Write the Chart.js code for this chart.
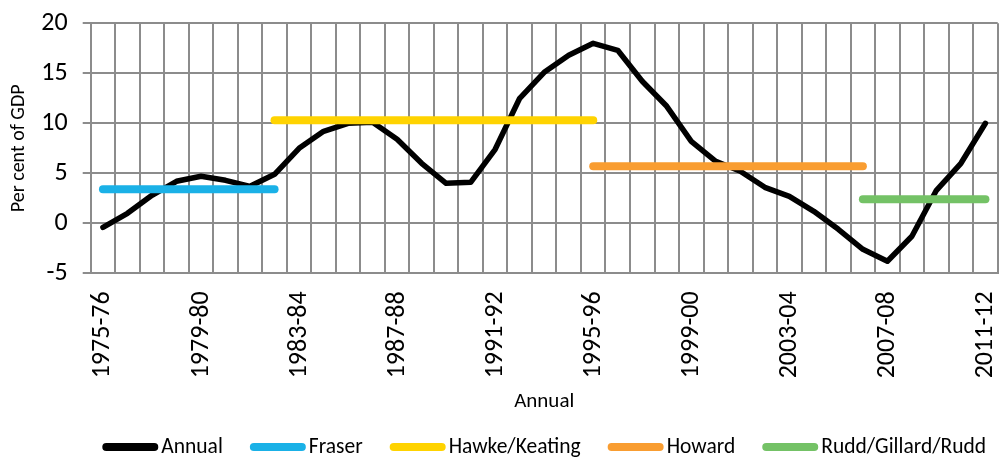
<!DOCTYPE html>
<html><head><meta charset="utf-8">
<script src="https://cdn.jsdelivr.net/npm/chart.js@4/dist/chart.umd.min.js"></script>
<style>html,body{margin:0;padding:0;background:#fff;}#wrap{width:1000px;height:459px;}</style>
</head><body><div id="wrap"><canvas id="c" width="1000" height="459"></canvas></div>
<script>
const categories = ['1975-76','1976-77','1977-78','1978-79','1979-80','1980-81','1981-82','1982-83','1983-84','1984-85','1985-86','1986-87','1987-88','1988-89','1989-90','1990-91','1991-92','1992-93','1993-94','1994-95','1995-96','1996-97','1997-98','1998-99','1999-00','2000-01','2001-02','2002-03','2003-04','2004-05','2005-06','2006-07','2007-08','2008-09','2009-10','2010-11','2011-12'];
const annual = [-0.4,1.0,2.8,4.2,4.7,4.3,3.7,4.9,7.5,9.2,10.0,10.1,8.4,6.0,4.0,4.1,7.4,12.5,15.1,16.8,18.0,17.3,14.2,11.7,8.2,6.2,5.2,3.6,2.7,1.2,-0.6,-2.6,-3.8,-1.3,3.3,6.0,10.0];
const periodNames = ['Fraser','Hawke/Keating','Howard','Rudd/Gillard/Rudd'];
const periodStart = ['1975-76','1982-83','1995-96','2006-07'];
const periodEnd = ['1982-83','1995-96','2006-07','2011-12'];
const periodAverage = [3.4,10.3,5.7,2.4];
const periodColors = ['#1AB1E7','#FFD300','#F99D31','#74C266'];
const yTicks = [-5,0,5,10,15,20];
const labelEvery = 4;

const FONT = 'Carlito, Lato, sans-serif';
const gridColor = '#8c8c8c';

const datasets = [{
  label: 'Annual', data: annual, borderColor: '#000', backgroundColor: '#000',
  borderWidth: 5.5, pointRadius: 0, tension: 0, borderJoinStyle: 'round', borderCapStyle: 'round', order: 10
}];
periodNames.forEach((name, k) => {
  const s = categories.indexOf(periodStart[k]);
  const e = categories.indexOf(periodEnd[k]);
  const data = categories.map((c, i) => (i >= s && i <= e) ? periodAverage[k] : null);
  datasets.push({label: name, data, borderColor: periodColors[k], backgroundColor: periodColors[k],
    borderWidth: 8, pointRadius: 0, borderCapStyle: 'round', spanGaps: false, order: 4 - k});
});

const legendPlugin = {
  id: 'customLegend',
  afterDraw(chart) {
    const ctx = chart.ctx;
    ctx.save();
    ctx.font = '21.5px ' + FONT;
    const sample = 56, gap = 3, spacing = 27, y = 447;
    const items = chart.data.datasets.map(d => ({text: d.label, color: d.borderColor, w: ctx.measureText(d.label).width}));
    let total = 0;
    items.forEach((it, i) => { total += sample + gap + it.w + (i ? spacing : 0); });
    const ca = chart.chartArea;
    let x = (ca.left + ca.right) / 2 - total / 2;
    items.forEach(it => {
      ctx.strokeStyle = it.color; ctx.lineWidth = 8; ctx.lineCap = 'round';
      ctx.beginPath(); ctx.moveTo(x + 4, y); ctx.lineTo(x + sample - 4, y); ctx.stroke();
      ctx.fillStyle = '#000'; ctx.textBaseline = 'middle'; ctx.textAlign = 'left';
      ctx.fillText(it.text, x + sample + gap, y + 1);
      x += sample + gap + it.w + spacing;
    });
    ctx.restore();
  }
};

function noPad(scale) { scale.paddingLeft = 0; scale.paddingRight = 0; scale.paddingTop = 0; scale.paddingBottom = 0; }

new Chart(document.getElementById('c'), {
  type: 'line',
  data: {labels: categories, datasets},
  options: {
    responsive: false, devicePixelRatio: 1, animation: false,
    layout: {padding: {top: 23.3, right: 2.3, left: 0, bottom: 0}},
    plugins: {legend: {display: false}, tooltip: {enabled: false}},
    scales: {
      x: {
        offset: true,
        grid: {offset: true, color: gridColor, lineWidth: 2, drawTicks: false},
        border: {color: gridColor, width: 2},
        ticks: {autoSkip: false, maxRotation: 90, minRotation: 90, padding: 18, color: '#000',
          font: {family: FONT, size: 26},
          callback: function(v, i) { return i % labelEvery === 0 ? categories[i] : ''; }},
        title: {display: true, text: 'Annual', color: '#000', font: {family: FONT, size: 21}, padding: {top: 0, bottom: 45}},
        afterFit(scale) { scale.height = 459 - 273.3; noPad(scale); }
      },
      y: {
        min: yTicks[0], max: yTicks[yTicks.length - 1],
        grid: {color: gridColor, lineWidth: 2, tickLength: 8},
        border: {color: gridColor, width: 2},
        ticks: {stepSize: yTicks[1] - yTicks[0], padding: 15, color: '#000', font: {family: FONT, size: 26}},
        title: {display: true, text: 'Per cent of GDP', color: '#000', font: {family: FONT, size: 20}, padding: {top: 7, bottom: 0}},
        afterFit(scale) { scale.width = 90.7; noPad(scale); }
      }
    }
  },
  plugins: [legendPlugin]
});
</script></body></html>
